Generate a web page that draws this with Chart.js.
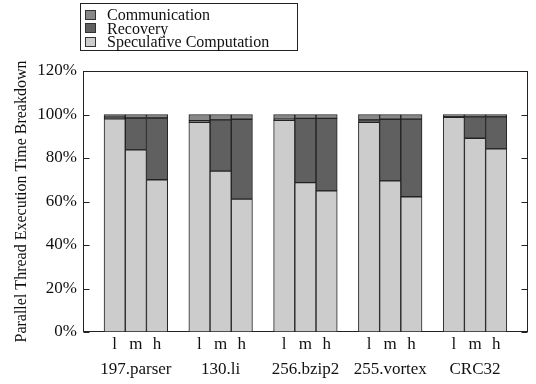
<!DOCTYPE html>
<html>
<head>
<meta charset="utf-8">
<script src="https://cdn.jsdelivr.net/npm/chart.js@4.4.1/dist/chart.umd.min.js"></script>
<style>
  html, body { margin: 0; padding: 0; background: #fff; }
  #wrap { position: relative; width: 536px; height: 384px; }
  #legend {
    position: absolute; left: 80px; top: 3px; width: 218px; height: 48px;
    box-sizing: border-box; border: 1px solid #222; padding: 4px 0 0 4px;
    font: 16px "Liberation Serif", serif; color: #111;
  }
  #legend .item { display: flex; align-items: center; height: 13.5px; line-height: 13.5px; white-space: nowrap; }
  #legend .box { width: 9px; height: 8px; border: 1px solid #333; margin-right: 11px; }
</style>
</head>
<body>
<div id="wrap">
  <canvas id="chart" width="536" height="384"></canvas>
  <div id="legend"></div>
</div>
<script>
const benchmarks = ["197.parser", "130.li", "256.bzip2", "255.vortex", "CRC32"];
const levels = ["l", "m", "h"];

// percent of parallel thread time, one row per benchmark, columns l / m / h
const speculative = [
  [98.0, 83.7, 70.0],
  [96.4, 74.0, 61.1],
  [97.3, 68.7, 64.9],
  [96.4, 69.5, 62.2],
  [98.7, 89.1, 84.2]
];
const recovery = [
  [0.8, 14.7, 28.4],
  [0.8, 23.5, 36.7],
  [0.6, 29.5, 33.3],
  [1.1, 28.3, 35.7],
  [0.3, 9.8, 14.7]
];
const communication = [
  [1.2, 1.6, 1.6],
  [2.8, 2.5, 2.2],
  [2.1, 1.8, 1.8],
  [2.5, 2.2, 2.1],
  [1.0, 1.1, 1.1]
];
const yTicks = [0, 20, 40, 60, 80, 100, 120];

// one category per bar, with empty spacer categories between benchmarks
const labels = [""];
const specData = [null], recData = [null], commData = [null];
benchmarks.forEach((name, g) => {
  levels.forEach((lv, j) => {
    labels.push(j === 1 ? [lv, name] : lv);
    specData.push(speculative[g][j]);
    recData.push(recovery[g][j]);
    commData.push(communication[g][j]);
  });
  labels.push("");
  specData.push(null);
  recData.push(null);
  commData.push(null);
});

const serif = "'Liberation Serif', 'Times New Roman', serif";
const ink = "#222";

const barStyle = {
  borderColor: ink,
  borderWidth: 1,
  borderSkipped: false,
  barPercentage: 1,
  categoryPercentage: 1
};

// box around the plot plus inward tick marks on both sides
const framePlugin = {
  id: "frame",
  beforeDatasetsDraw(chart) {
    const { ctx, chartArea: a, scales: { y } } = chart;
    const l = Math.round(a.left) + 0.5, r = Math.round(a.right) - 0.5;
    const t = Math.round(a.top) + 0.5, b = Math.round(a.bottom) - 0.5;
    ctx.save();
    ctx.strokeStyle = ink;
    ctx.lineWidth = 1;
    ctx.beginPath();
    y.ticks.forEach(tk => {
      const py = Math.round(y.getPixelForValue(tk.value)) + 0.5;
      ctx.moveTo(l, py); ctx.lineTo(l + 6, py);
      ctx.moveTo(r, py); ctx.lineTo(r - 6, py);
    });
    ctx.stroke();
    ctx.strokeRect(l, t, r - l, b - t);
    ctx.restore();
  }
};

const htmlLegend = {
  id: "htmlLegend",
  afterUpdate(chart) {
    const box = document.getElementById("legend");
    box.innerHTML = "";
    const items = chart.options.plugins.legend.labels.generateLabels(chart).reverse();
    items.forEach(it => {
      const row = document.createElement("div");
      row.className = "item";
      const sw = document.createElement("span");
      sw.className = "box";
      sw.style.background = it.fillStyle;
      const txt = document.createElement("span");
      txt.textContent = it.text;
      row.appendChild(sw);
      row.appendChild(txt);
      box.appendChild(row);
    });
  }
};

new Chart(document.getElementById("chart"), {
  type: "bar",
  data: {
    labels: labels,
    datasets: [
      { label: "Speculative Computation", data: specData, backgroundColor: "#cccccc", ...barStyle },
      { label: "Recovery", data: recData, backgroundColor: "#606060", ...barStyle },
      { label: "Communication", data: commData, backgroundColor: "#878787", ...barStyle }
    ]
  },
  options: {
    responsive: false,
    animation: false,
    layout: { padding: { left: 12, right: 8, top: 71, bottom: 2 } },
    plugins: {
      legend: { display: false },
      tooltip: { enabled: false }
    },
    scales: {
      x: {
        stacked: true,
        grid: { display: false, drawTicks: false },
        border: { display: false },
        ticks: {
          autoSkip: false,
          maxRotation: 0,
          padding: 0,
          color: "#111",
          font: { family: serif, size: 17, lineHeight: 25 / 17 }
        }
      },
      y: {
        stacked: true,
        min: 0,
        max: 120,
        afterBuildTicks: s => { s.ticks = yTicks.map(v => ({ value: v })); },
        grid: { display: false, drawTicks: false },
        border: { display: false },
        ticks: {
          padding: 6,
          color: "#111",
          font: { family: serif, size: 17 },
          callback: v => v + "%"
        },
        title: {
          display: true,
          text: "Parallel Thread Execution Time Breakdown",
          color: "#111",
          padding: { top: 0, bottom: 0 },
          font: { family: serif, size: 16 }
        }
      }
    }
  },
  plugins: [framePlugin, htmlLegend]
});
</script>
</body>
</html>
